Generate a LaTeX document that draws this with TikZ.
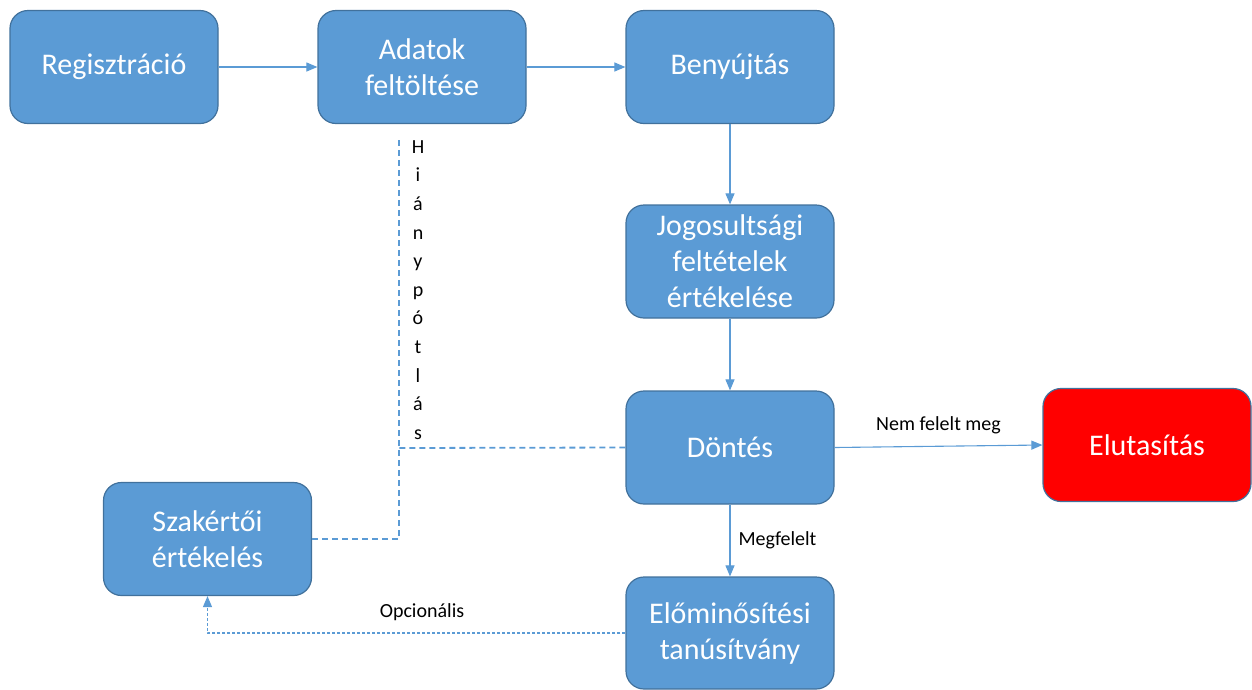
\documentclass[tikz,border=0pt]{standalone}
\usepackage{fontspec}
\setmainfont{Carlito}
\usetikzlibrary{arrows.meta}
\definecolor{boxblue}{HTML}{5B9BD5}
\definecolor{boxedge}{HTML}{41719C}
\definecolor{linkblue}{HTML}{5B9BD5}
\definecolor{rejred}{HTML}{FF0000}
\tikzset{
  stepbox/.style={draw=boxedge, line width=1.2pt, fill=boxblue, rounded corners=18pt,
    minimum width=208pt, minimum height=113pt, inner sep=0pt, text=white, align=center,
    font=\fontsize{30}{36}\selectfont},
  redbox/.style={stepbox, fill=rejred, draw=boxedge},
  flow/.style={draw=linkblue, line width=1.1pt, -{Triangle[length=11pt,width=9pt]}},
  dashlink/.style={draw=linkblue, line width=1.8pt, dash pattern=on 6pt off 4pt},
  optlink/.style={draw=linkblue, line width=1.1pt, dash pattern=on 3pt off 2pt, -{Triangle[length=11pt,width=9pt]}},
  lbl/.style={font=\fontsize{20}{24}\selectfont, text=black, inner sep=0pt}
}
\begin{document}
\begin{tikzpicture}[x=1pt,y=-1pt]
\useasboundingbox (0,0) rectangle (1252,689);
\node[stepbox] (reg) at (114,67) {Regisztráció};
\node[stepbox] (adat) at (422,67) {Adatok\\feltöltése};
\node[stepbox] (beny) at (730,67) {Benyújtás};
\node[stepbox] (jog) at (730,261.5) {Jogosultsági\\feltételek\\értékelése};
\node[stepbox] (dont) at (730,447.5) {Döntés};
\node[redbox] (elut) at (1147,445) {Elutasítás};
\node[stepbox] (szak) at (207.5,539) {Szakértői\\értékelés};
\node[stepbox, minimum height=112pt] (elom) at (730,633) {Előminősítési\\tanúsítvány};

\draw[flow] (reg) -- (adat);
\draw[flow] (adat) -- (beny);
\draw[flow] (beny) -- (jog);
\draw[flow] (jog) -- (dont);
\draw[flow] (dont.east) -- (elut.west) node[lbl, midway, above=12pt] (nem) {Nem felelt meg};
\draw[flow] (dont) -- (elom) node[lbl, midway, right=8pt] (megf) {Megfelelt};

\coordinate (jA) at (399,448);
\coordinate (jB) at (399,539);
\coordinate (jTop) at (399,140);
\draw[dashlink] (dont.west) -- (jA);
\draw[dashlink] (szak.east) -- (jB) -- (jTop);
\node[lbl, align=center, font=\fontsize{20}{28.6}\selectfont] (hp) at (418,290)
  {H\\i\\á\\n\\y\\p\\ó\\t\\l\\á\\s};

\draw[optlink] (elom.west) -| (szak.south);
\node[lbl] (opc) at (422,612) {Opcionális};
\end{tikzpicture}
\end{document}
